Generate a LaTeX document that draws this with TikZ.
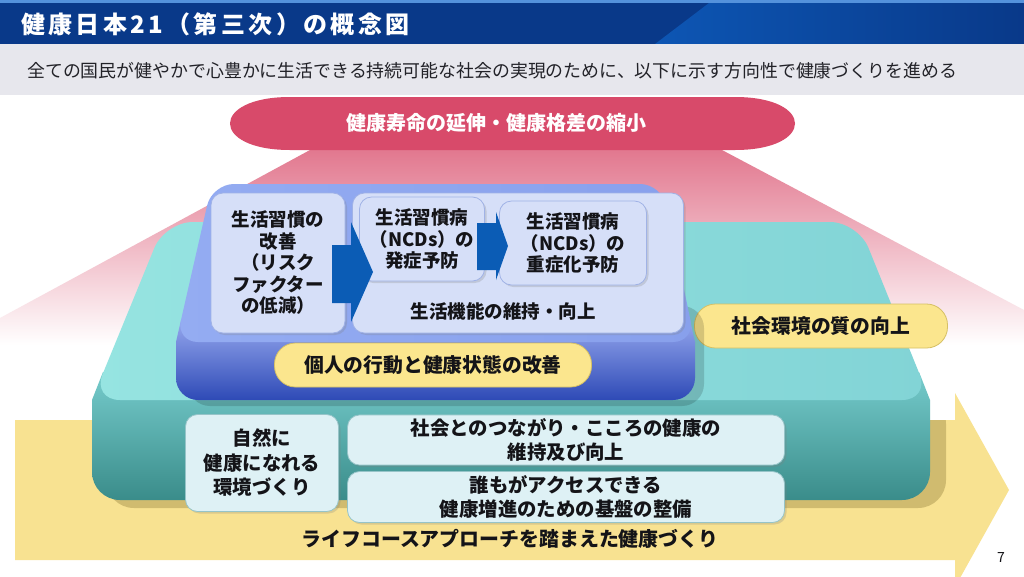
\documentclass[tikz,border=0pt]{standalone}
\usepackage{fontspec}
\setmainfont{Noto Sans CJK JP}
\usetikzlibrary{positioning, shadows}
\definecolor{navy}{RGB}{9,57,137}
\definecolor{navylight}{RGB}{13,86,180}
\definecolor{titleline}{RGB}{84,146,220}
\definecolor{subband}{RGB}{231,231,237}
\definecolor{subtext}{RGB}{34,34,40}
\definecolor{ink}{RGB}{20,20,24}
\definecolor{rose}{RGB}{216,74,106}
\definecolor{pinktop}{RGB}{226,120,143}
\definecolor{pinkmid}{RGB}{240,172,186}
\definecolor{arrowyellow}{RGB}{248,226,145}
\definecolor{arrowshadow}{RGB}{150,130,60}
\definecolor{tealtopL}{RGB}{150,228,225}
\definecolor{tealtopR}{RGB}{130,212,214}
\definecolor{tealside}{RGB}{118,204,204}
\definecolor{tealdark}{RGB}{58,140,138}
\definecolor{boxteal}{RGB}{222,241,245}
\definecolor{boxtealedge}{RGB}{150,196,200}
\definecolor{bluetopL}{RGB}{148,172,242}
\definecolor{bluetopR}{RGB}{136,160,236}
\definecolor{blueside}{RGB}{150,168,238}
\definecolor{bluemid}{RGB}{104,134,222}
\definecolor{bluedark}{RGB}{46,74,182}
\definecolor{boxblue}{RGB}{214,223,248}
\definecolor{boxblueedge}{RGB}{160,178,230}
\definecolor{arrowblue}{RGB}{11,92,181}
\definecolor{pillyellow}{RGB}{251,230,142}
\definecolor{pilledge}{RGB}{214,192,100}

\begin{document}
\begin{tikzpicture}[x=1pt, y=-1pt,
  lbl/.style={align=center, text=ink, font=\fontsize{18.5}{21.5}\selectfont\bfseries},
  tlbl/.style={align=center, text=ink, font=\fontsize{19.4}{24.5}\selectfont\bfseries},
  bluebox/.style={draw=boxblueedge, fill=boxblue, rounded corners=12pt, line width=0.8pt,
    drop shadow={opacity=0.25, shadow xshift=2pt, shadow yshift=-2pt}},
  tealbox/.style={draw=boxtealedge, fill=boxteal, rounded corners=12pt, line width=0.8pt,
    drop shadow={opacity=0.25, shadow xshift=2pt, shadow yshift=-2pt}},
  pill/.style={draw=pilledge, fill=pillyellow, rounded corners=21pt, line width=0.8pt,
    minimum height=44pt, text=ink, font=\fontsize{19.8}{22}\selectfont\bfseries},
  flow/.style={fill=arrowblue}
]
\clip (0,0) rectangle (1024,576);
\fill[white] (0,0) rectangle (1024,576);

\fill[navy] (0,0) rectangle (1024,44);
\shade[left color=navylight, right color=navy] (655,44) -- (709,3) -- (1024,3) -- (1024,44) -- cycle;
\fill[titleline] (0,0) rectangle (1024,3);
\node[anchor=west, inner sep=0, text=white,
  font=\fontsize{24}{24}\selectfont\bfseries\addfontfeatures{LetterSpace=14}] (title) at (21,24)
  {健康日本21（第三次）の概念図};
\fill[subband] (0,44) rectangle (1024,95);
\node[anchor=west, inner sep=0, text=subtext, font=\fontsize{17.9}{18}\selectfont] (lead) at (27,71)
  {全ての国民が健やかで心豊かに生活できる持続可能な社会の実現のために、以下に示す方向性で健康づくりを進める};

\fill[arrowyellow] (15,420) -- (955,420) -- (955,393) -- (1009,490) -- (955,587) -- (955,560) -- (15,560) -- cycle;
\begin{scope}
  \clip (15,420) -- (955,420) -- (955,393) -- (1009,490) -- (955,587) -- (955,560) -- (15,560) -- cycle;
  \fill[arrowshadow, opacity=0.4, rounded corners=28] (106,396) rectangle (946,508);
\end{scope}
\node[text=ink, font=\fontsize{19.9}{20}\selectfont\bfseries] (course) at (510,539)
  {ライフコースアプローチを踏まえた健康づくり};

\shade[top color=pinktop, middle color=pinkmid, bottom color=white]
  (310,150) -- (722,150) -- (1024,310) -- (1024,345) -- (0,345) -- (0,318) -- cycle;
\fill[rose] (290,97) -- (735,97) .. controls (815,97) and (815,150) .. (735,150)
  -- (290,150) .. controls (210,150) and (210,97) .. (290,97) -- cycle;
\node[text=white, font=\fontsize{20}{20}\selectfont\bfseries] (goal) at (496,123)
  {健康寿命の延伸・健康格差の縮小};

\shade[top color=tealside, bottom color=tealdark]
  (103,372) -- (919,372) -- (930,400) [rounded corners=28] -- (930,500) -- (92,500) [sharp corners]
  -- (92,400) -- cycle;
\shade[left color=tealtopL, right color=tealtopR, rounded corners=28]
  (165,222) -- (858,222) -- (930,400) -- (92,400) -- cycle;
\node[pill, minimum width=253pt] (env) at (821,326) {社会環境の質の向上};

\node[tealbox, tlbl, minimum width=153pt, minimum height=97pt] (nature) at (262,463)
  {自然に\\健康になれる\\環境づくり};
\node[tealbox, tlbl, minimum width=437pt, minimum height=50pt] (social) at (566,440)
  {社会とのつながり・こころの健康の\\維持及び向上};
\node[tealbox, tlbl, minimum width=437pt, minimum height=51pt] (base) at (566,497)
  {誰もがアクセスできる\\健康増進のための基盤の整備};

\fill[black, opacity=0.15, rounded corners=22] (188,306) rectangle (704,406);
\shade[top color=blueside, middle color=bluemid, bottom color=bluedark]
  (181,320) -- (690,320) -- (695,342) [rounded corners=22] -- (695,400) -- (176,400) [sharp corners]
  -- (176,342) -- cycle;
\shade[left color=bluetopL, right color=bluetopR, rounded corners=22]
  (212,184) -- (662,184) -- (695,342) -- (176,342) -- cycle;
\node[pill, minimum width=317pt] (self) at (433,365) {個人の行動と健康状態の改善};

\node[bluebox, lbl, minimum width=134pt, minimum height=140pt] (habit) at (278,263)
  {生活習慣の\\改善\\（リスク\\ファクター\\の低減）};
\node[bluebox, minimum width=331pt, minimum height=140pt] (life) at (518,263) {};
\node[lbl] (keep) at (503,311) {生活機能の維持・向上};
\node[bluebox, lbl, minimum width=125pt, minimum height=84pt] (onset) at (422,239)
  {生活習慣病\\（NCDs）の\\発症予防};
\node[bluebox, lbl, minimum width=147pt, minimum height=84pt] (severe) at (573,243)
  {生活習慣病\\（NCDs）の\\重症化予防};

\fill[flow] (332,245) -- (351,245) -- (351,222) -- (373,272) -- (351,322) -- (351,303) -- (332,303) -- cycle;
\fill[flow] (477,223) -- (496,223) -- (496,212) -- (508,246) -- (496,280) -- (496,270) -- (477,270) -- cycle;

\node[text=ink, font=\fontsize{14}{14}\selectfont] (page) at (1001,557) {7};
\end{tikzpicture}
\end{document}
